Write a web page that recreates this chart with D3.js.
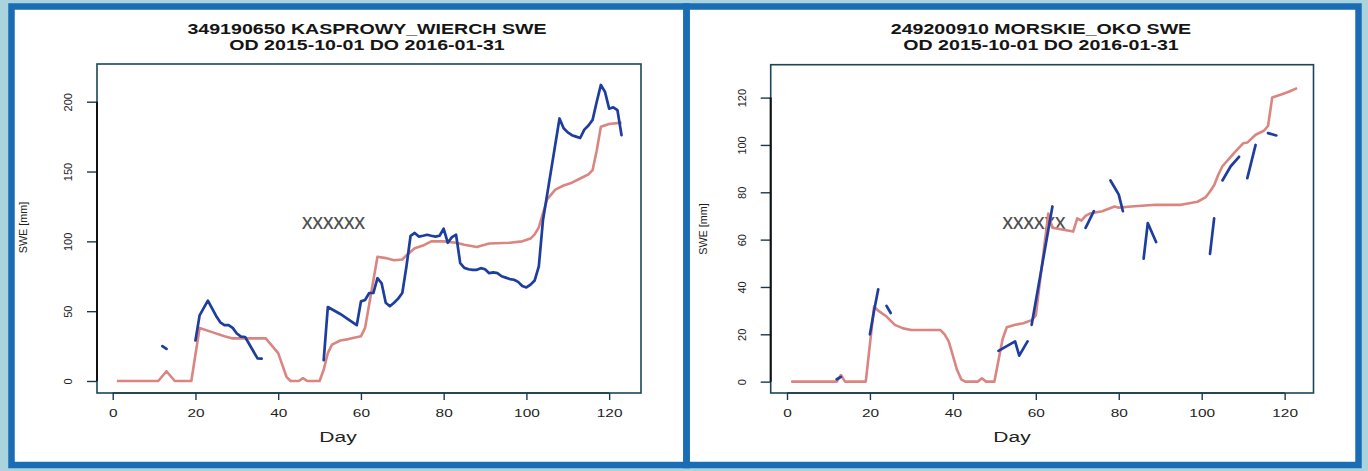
<!DOCTYPE html>
<html><head><meta charset="utf-8">
<script src="https://cdn.jsdelivr.net/npm/d3@7"></script>
<style>
html,body{margin:0;padding:0;background:#a9d4dd;}
svg{display:block;font-family:"Liberation Sans",Arial,Helvetica,sans-serif;}
</style></head>
<body>
<svg id="c" width="1368" height="471"></svg>
<script>
// ---------------- data ----------------
const xTicks = [0, 20, 40, 60, 80, 100, 120];

// Left: 349190650 KASPROWY_WIERCH
const leftTitle = ["349190650 KASPROWY_WIERCH SWE", "OD 2015-10-01 DO 2016-01-31"];
const leftYTicks = [0, 50, 100, 150, 200];
const leftRedDays = [1,11,13,15,19,21,24,27,29,37,40,42,43,45,46,47,50,51,52,53,55,57,60,61,64,66,68,70,71,73,75,77,80,83,85,88,91,96,99,101,102,103,105,107,109,111,113,115,116,117,118,120,123];
const leftRedVals = [0,0,7,0,0,38,35,32,30.5,30.5,20,3,0,0,2,0,0,8,20,26,29,30,32,38,89,88,86.5,87,90,95,97,100,100,99,97.5,96,98.5,99,100,102,105,110,130,137,140,142,145,148,151,165,182,184,185];
const leftBlueDays = [12,13,16,20,21,23,25,26,27,28,29,30,31,32,35,36,45,51,52,55,58,59,60,61,62,63,64,65,66,67,68,69,70,71,72,73,74,75,76,77,78,79,80,81,82,83,84,85,86,87,88,89,90,91,92,93,94,95,96,97,98,99,100,101,102,103,104,108,109,110,111,112,113,114,115,116,117,118,119,120,121,122,123];
const leftBlueVals = [25,23,null,29,47,57.6,46.6,42,40,40,38,34,31.8,31.5,16.2,16,null,15,53,48,42,40,57,58,63,63,73.6,70,56,53.5,56,59,63,82,104,106,103.4,104,104.7,104,103.4,104,109,99,103,104.7,84.4,81,80,79.6,79.6,80.8,80,77.2,77.8,77.2,75,74,73,72.5,71,68,67,69,72,82,115,188,181,178,176,175,174,180,183,187,200,212,207,195,196,194,176];

// Right: 249200910 MORSKIE_OKO
const rightTitle = ["249200910 MORSKIE_OKO SWE", "OD 2015-10-01 DO 2016-01-31"];
const rightYTicks = [0, 20, 40, 60, 80, 100, 120];
const rightRedDays = [1,12,13,14,19,21,22,24,26,28,30,37,38,39,41,42,43,46,47,48,50,51,52,53,55,57,59,60,63,64,69,70,71,72,73,76,79,80,83,89,95,99,101,102,103,104,105,107,108,110,111,113,115,116,117,119,121,123];
const rightRedVals = [0,0,2.8,0,0,31.7,30,27.5,24,22.5,21.8,21.8,20,17,5,1,0,0,1.4,0,0,9,18,23,24,24.7,26,28,71,65,63.4,69,68,70,71,72,74,73.5,74,74.7,74.7,76,78,80.3,83,87.4,91,95,97,100.7,101,104.3,106,108,120,121.2,122.5,124];
const rightBlueDays = [12,13,15,20,21,22,23,24,25,40,51,53,55,56,58,null,59,64,66,72,74,76,78,79,80,81,84,86,87,89,95,102,103,104,105,107,109,110,111,113,114,116,118];
const rightBlueVals = [1,2,null,20,30,39,null,32,29,null,13,15,17,11,17,null,24,74,null,65,72,null,85,82,79,72,null,52,67,59,null,54,69,null,85,91,95,null,86,100,null,105,104];

// ---------------- drawing ----------------
const svg = d3.select("#c");
const STRETCH = 1.4;
const BLUE = "#1d3e9e", RED = "#db8581", FRAME = "#1a6cb4";

svg.append("rect").attr("x",0).attr("y",0).attr("width",1368).attr("height",471).attr("fill","#a9d4dd");
svg.append("rect").attr("x",11.5).attr("y",6.5).attr("width",675).attr("height",458.5).attr("fill","#fff");
svg.append("rect").attr("x",686.5).attr("y",6.5).attr("width",672).attr("height",458.5).attr("fill","#fff");

function drawPanel(cfg) {
  const g = svg.append("g");
  const x = d3.scaleLinear().domain(cfg.xDomain).range([cfg.left, cfg.right]);
  const y = d3.scaleLinear().domain(cfg.yDomain).range([cfg.bottom, cfg.top]);

  // title
  cfg.title.forEach((t, i) => {
    g.append("text")
      .attr("transform", `translate(${cfg.titleX},${34 + i * 16}) scale(${STRETCH},1)`)
      .attr("text-anchor", "middle").attr("font-weight", "bold")
      .attr("font-size", 14).attr("fill", "#151515").text(t);
  });

  // watermark
  g.append("text").attr("x", cfg.wmX).attr("y", 229).attr("text-anchor", "middle")
    .attr("font-family", "'Open Sans', 'DejaVu Sans', sans-serif").attr("font-weight", 600)
    .attr("font-size", 17).attr("fill", "#505050").attr("textLength", 63)
    .attr("lengthAdjust", "spacingAndGlyphs").text("XXXXXX");

  // red (model) line
  const redPts = cfg.redDays.map((d, i) => [d, cfg.redVals[i]]);
  const line = d3.line().defined(p => p[0] != null && p[1] != null)
    .x(p => x(p[0])).y(p => y(p[1]));
  g.append("path").datum(redPts).attr("d", line).attr("fill", "none")
    .attr("stroke", RED).attr("stroke-width", 2.6).attr("stroke-linejoin", "round");

  // blue (observed) line with gaps
  const bluePts = cfg.blueDays.map((d, i) => [d, cfg.blueVals[i]]);
  g.append("path").datum(bluePts).attr("d", line).attr("fill", "none")
    .attr("stroke", BLUE).attr("stroke-width", 2.7).attr("stroke-linejoin", "round")
    .attr("stroke-linecap", "round");

  // box
  g.append("rect").attr("x", cfg.left).attr("y", cfg.top)
    .attr("width", cfg.right - cfg.left).attr("height", cfg.bottom - cfg.top)
    .attr("fill", "none").attr("stroke", "#1b4658").attr("stroke-width", 1.6);

  // x axis
  const xa = g.append("g").attr("transform", `translate(0,${cfg.bottom})`)
    .call(d3.axisBottom(x).tickValues(xTicks).tickSize(7).tickSizeOuter(0).tickPadding(0));
  xa.select(".domain").remove();
  xa.selectAll(".tick line").attr("stroke", "#1b3a48").attr("stroke-width", 1.4);
  xa.selectAll(".tick text").attr("y", 24).attr("dy", null)
    .attr("transform", `scale(${STRETCH},1)`)
    .attr("font-size", 11).attr("font-family", null).attr("fill", "#222");
  g.append("line").attr("x1", x(xTicks[0])).attr("x2", x(xTicks[xTicks.length - 1]))
    .attr("y1", cfg.bottom).attr("y2", cfg.bottom).attr("stroke", "#1b3a48").attr("stroke-width", 1.6);

  // y axis
  const ya = g.append("g").attr("transform", `translate(${cfg.left},0)`)
    .call(d3.axisLeft(y).tickValues(cfg.yTicks).tickSize(10).tickSizeOuter(0));
  ya.select(".domain").remove();
  ya.selectAll(".tick line").attr("stroke", "#1b3a48").attr("stroke-width", 1.4);
  ya.selectAll(".tick text").attr("x", null).attr("dy", null)
    .attr("transform", `translate(${cfg.yLabOff},0) rotate(-90)`)
    .attr("text-anchor", "middle").attr("font-size", 11).attr("font-family", null).attr("fill", "#222");
  g.append("line").attr("y1", y(cfg.yTicks[0])).attr("y2", y(cfg.yTicks[cfg.yTicks.length - 1]))
    .attr("x1", cfg.left).attr("x2", cfg.left).attr("stroke", "#111").attr("stroke-width", 2);

  // axis titles
  g.append("text").attr("transform", `translate(${cfg.dayX},442) scale(${STRETCH},1)`)
    .attr("text-anchor", "middle").attr("font-size", 15).attr("fill", "#222").text("Day");
  g.append("text").attr("transform", `translate(${cfg.yTitleX},${cfg.yTitleY}) rotate(-90)`)
    .attr("text-anchor", "middle").attr("font-size", 10.8).attr("fill", "#222").text("SWE [mm]");
}

drawPanel({
  title: leftTitle, titleX: 367, wmX: 333.5,
  left: 97, right: 641, top: 64, bottom: 393,
  xDomain: [-3.8, 127.7], yDomain: [-8.6, 227],
  yTicks: leftYTicks, yLabOff: -25.5,
  redDays: leftRedDays, redVals: leftRedVals,
  blueDays: leftBlueDays, blueVals: leftBlueVals,
  dayX: 338, yTitleX: 26.5, yTitleY: 227.5
});
drawPanel({
  title: rightTitle, titleX: 1041, wmX: 1034,
  left: 770.7, right: 1313.5, top: 64.7, bottom: 393,
  xDomain: [-3.93, 126.96], yDomain: [-4.8, 133.9],
  yTicks: rightYTicks, yLabOff: -25,
  redDays: rightRedDays, redVals: rightRedVals,
  blueDays: rightBlueDays, blueVals: rightBlueVals,
  dayX: 1012, yTitleX: 706.5, yTitleY: 229
});

// panel frames
svg.append("rect").attr("x",11.5).attr("y",6.5).attr("width",675).attr("height",458.5)
  .attr("fill","none").attr("stroke",FRAME).attr("stroke-width",6.5);
svg.append("rect").attr("x",686.5).attr("y",6.5).attr("width",672).attr("height",458.5)
  .attr("fill","none").attr("stroke",FRAME).attr("stroke-width",6.5);
</script>
</body></html>
